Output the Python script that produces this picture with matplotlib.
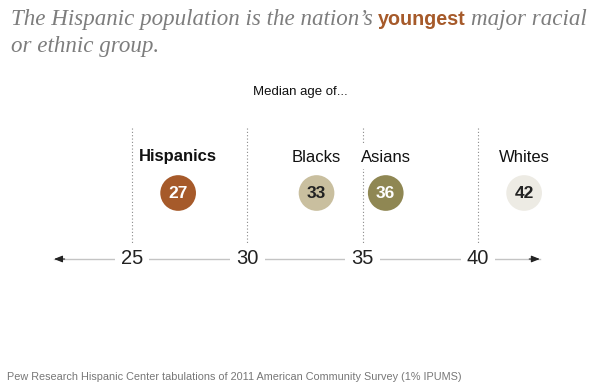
import matplotlib
matplotlib.use("Agg")
import matplotlib.pyplot as plt

# data
groups = ['Hispanics', 'Blacks', 'Asians', 'Whites']
median_age = [27, 33, 36, 42]
ticks = [25, 30, 35, 40]
circle_colors = ['#A65A2A', '#C9BF9F', '#8F8753', '#EDEBE4']
number_colors = ['white', '#222222', 'white', '#222222']
label_weights = ['bold', 'normal', 'normal', 'normal']

W, H = 600, 387
fig = plt.figure(figsize=(W / 100, H / 100), dpi=100)
ax = fig.add_axes([0, 0, 1, 1])
# x: 25 -> px 132, 40 -> px 478 ; y in pixels from top
ppy = (478 - 132) / 15
ax.set_xlim(25 - 132 / ppy, 25 + (W - 132) / ppy)
ax.set_ylim(H, 0)
ax.axis('off')

sans = ['Liberation Sans', 'DejaVu Sans']
serif = ['Liberation Serif', 'DejaVu Serif']

# dotted guide lines
ax.vlines(ticks, 128, 247, colors='#8a8a8a', linestyles=(0, (1, 2)), lw=0.8, zorder=1)

# axis line with arrows
ax.plot([21.6, 42.7], [259, 259], color='#c4c4c4', lw=1, zorder=1)
for a, b in [(21.5, 22.2), (42.8, 42.1)]:
    ax.annotate('', xy=(a, 259), xytext=(b, 259),
                arrowprops=dict(arrowstyle='-|>,head_length=0.5,head_width=0.2',
                                color='#222222', lw=0.8))
for t in ticks:
    ax.text(t, 259, str(t), ha='center', va='center', fontsize=14.5, family=sans, color='#222222',
            bbox=dict(boxstyle='square,pad=0.3', fc='white', ec='none'), zorder=3)

# circles
ax.scatter(median_age, [193] * len(median_age), s=660, c=circle_colors, edgecolors='none', zorder=2)
for v, c in zip(median_age, number_colors):
    ax.text(v, 194, str(v), ha='center', va='center', fontsize=12.5, fontweight='bold',
            family=sans, color=c, zorder=3)
for g, v, fw in zip(groups, median_age, label_weights):
    ax.text(v, 157, g, ha='center', va='center', fontsize=12, fontweight=fw, family=sans,
            color='#111111', bbox=dict(boxstyle='square,pad=0.25', fc='white', ec='none'), zorder=3)

fig.text(300 / W, 1 - 92 / H, 'Median age of...', fontsize=9.5, family=sans,
         ha='center', va='center', color='#111111')

# title with a highlighted word, fitted to the width of the reference line
renderer = fig.canvas.get_renderer()
parts = [("The Hispanic population is the nation\u2019s", serif, 'italic', 'normal', '#7d7d7d', 1.0),
         ("youngest", sans, 'normal', 'bold', '#A65A2A', 0.86),
         ("major racial", serif, 'italic', 'normal', '#7d7d7d', 1.0)]
gap = 5


def title_width(size):
    total = gap * (len(parts) - 1)
    for txt, fam, st, fw, col, rel in parts:
        t = fig.text(0, 0, txt, family=fam, style=st, fontweight=fw, fontsize=size * rel)
        total += t.get_window_extent(renderer).width
        t.remove()
    return total


size = 17.0
size = size * 577 / title_width(size)
x = 11
for txt, fam, st, fw, col, rel in parts:
    t = fig.text(x / W, 1 - 25 / H, txt, ha='left', va='baseline', family=fam, style=st,
                 fontweight=fw, color=col, fontsize=size * rel)
    x += t.get_window_extent(renderer).width + gap
fig.text(11 / W, 1 - 52 / H, "or ethnic group.", ha='left', va='baseline',
         family=serif, style='italic', color='#7d7d7d', fontsize=size)

fig.text(7 / W, 1 - 377 / H,
         'Pew Research Hispanic Center tabulations of 2011 American Community Survey (1% IPUMS)',
         ha='left', va='center', fontsize=7.8, family=sans, color='#777777')

fig.savefig('out.png', dpi=100)
